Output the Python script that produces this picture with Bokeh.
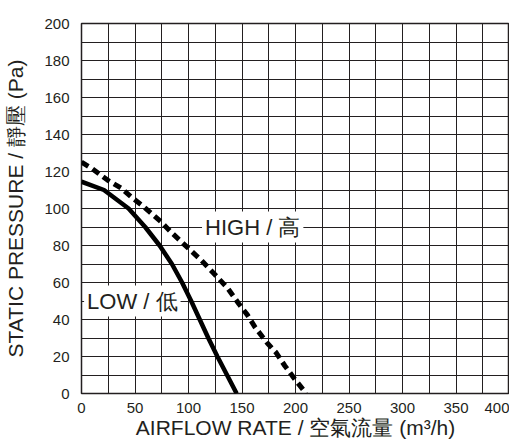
from bokeh.plotting import figure
from bokeh.models import Range1d, FixedTicker, Label
from bokeh.embed import file_html
from bokeh.resources import INLINE

# ---- data ----
low_x = [0, 21, 44, 59.5, 73, 84.5, 94, 102.5, 110.5, 118.5, 127, 136, 145]
low_y = [114.5, 110, 100, 90, 80, 70, 60, 50, 40, 30, 20, 10, 0]

high_x = [0, 10, 24, 37, 48, 57, 74, 85, 98, 112, 123.5, 136.5, 147, 155, 162, 174, 182, 190, 199, 210]
high_y = [125, 121.5, 115.5, 111, 105.5, 101.5, 93, 86.5, 79.5, 72, 65, 57, 48.5, 42.5, 36, 27, 22, 15, 8, 0]

x_ticks = [0, 50, 100, 150, 200, 250, 300, 350, 400]
y_ticks = [0, 20, 40, 60, 80, 100, 120, 140, 160, 180, 200]
x_grid = [0, 25, 50, 75, 100, 125, 150, 175, 200, 225, 250, 275, 300, 325, 350, 375, 400]
y_grid = [0, 10, 20, 30, 40, 50, 60, 70, 80, 90, 100, 110, 120, 130, 140, 150, 160, 170, 180, 190, 200]

series_labels = ["HIGH / 高", "LOW / 低"]
label_x = [160, 47.5]
label_y = [90, 50]

x_title = "AIRFLOW RATE / 空氣流量 (m³/h)"
y_title = "STATIC PRESSURE / 靜壓 (Pa)"

INK = "#231f20"
FONT = "Liberation Sans"

p = figure(width=509, height=441,
           x_range=Range1d(0, 400), y_range=Range1d(0, 200),
           output_backend="svg", toolbar_location=None,
           min_border_left=81, min_border_top=23,
           min_border_right=0, min_border_bottom=47)

p.background_fill_color = "white"
p.border_fill_color = "white"
p.outline_line_color = INK
p.outline_line_width = 1.5

p.xaxis.ticker = FixedTicker(ticks=x_ticks)
p.yaxis.ticker = FixedTicker(ticks=y_ticks)
p.xgrid.ticker = FixedTicker(ticks=x_grid)
p.ygrid.ticker = FixedTicker(ticks=y_grid)
for g in (p.xgrid, p.ygrid):
    g.grid_line_color = INK
    g.grid_line_alpha = 1.0
    g.grid_line_width = 1

for ax in (p.xaxis, p.yaxis):
    ax.axis_line_color = None
    ax.major_tick_line_color = None
    ax.minor_tick_line_color = None
    ax.major_label_text_font = FONT
    ax.major_label_text_font_size = "15px"
    ax.major_label_text_color = INK
    ax.axis_label_text_font = FONT
    ax.axis_label_text_font_style = "normal"
    ax.axis_label_text_color = INK

p.xaxis.axis_label = x_title
p.yaxis.axis_label = y_title
p.xaxis.axis_label_text_font_size = "21px"
p.yaxis.axis_label_text_font_size = "21px"
p.xaxis.major_label_standoff = 3
p.xaxis.axis_label_standoff = 0
p.yaxis.major_label_standoff = 6
p.yaxis.axis_label_standoff = 14

p.line(low_x, low_y, line_color="black", line_width=4.5)
p.line(high_x, high_y, line_color="black", line_width=5, line_dash="8 5", line_cap="butt")

for t, lx, ly in zip(series_labels, label_x, label_y):
    p.add_layout(Label(x=lx, y=ly, text=t, text_align="center", text_baseline="middle",
                       text_font=FONT, text_font_size="22px", text_color=INK,
                       background_fill_color="white", padding=3))

open("out.html", "w").write(file_html(p, INLINE))
